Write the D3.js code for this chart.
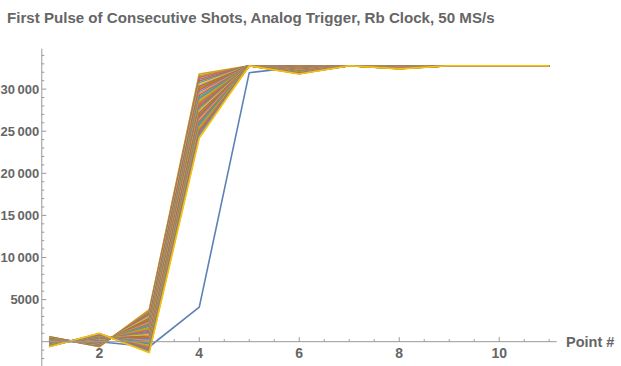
<!DOCTYPE html>
<html>
<head>
<meta charset="utf-8">
<script src="https://cdn.jsdelivr.net/npm/d3@7"></script>
<style>
  html, body { margin: 0; padding: 0; background: #fff; }
  svg { display: block; }
  text { font-family: "Liberation Sans", Arial, Helvetica, sans-serif; }
</style>
</head>
<body>
<svg id="chart" width="621" height="366"></svg>
<script>
// ---------------- data ----------------
const title = "First Pulse of Consecutive Shots, Analog Trigger, Rb Clock, 50 MS/s";
const xLabel = "Point #";
const pointNumbers = [1, 2, 3, 4, 5, 6, 7, 8, 9, 10, 11];
const xTickValues = [2, 4, 6, 8, 10];
const yTickValues = [5000, 10000, 15000, 20000, 25000, 30000];
const yTickLabels = ["5000", "10\u2009000", "15\u2009000", "20\u2009000", "25\u2009000", "30\u2009000"];
const FULL_SCALE = 32767; // saturated ADC value (points 5, 7, 9, 10, 11)

// first shot (outlier)
const firstShot = [0, 0, -600, 4100, 31950, 32620, 32767, 32767, 32767, 32767, 32767];

// later shots, value at each varying point (shot order)
const point1 = [600, 570, 540, 500, 470, 440, 400, 370, 340, 300, 270, 240, 200, 170, 130, 100, 70, 30, 0,
  -30, -70, -100, -130, -170, -200, -230, -270, -300, -330, -370, -400, -430, -470, -500, -530, -570, -600];
const point2 = [-600, -560, -510, -470, -420, -380, -330, -290, -240, -200, -160, -110, -70, -20, 20, 70, 110, 160, 200,
  240, 290, 330, 380, 420, 470, 510, 560, 600, 640, 690, 730, 780, 820, 870, 910, 960, 1000];
const point3 = [3800, 3650, 3520, 3370, 3230, 3090, 2950, 2800, 2660, 2520, 2380, 2240, 2100, 1950, 1810, 1670, 1530, 1390, 1250,
  1100, 960, 820, 680, 540, 400, 260, 120, -30, -170, -310, -450, -590, -730, -870, -1010, -1150, -1300];
const point4 = [31800, 31590, 31390, 31170, 30960, 30760, 30540, 30330, 30120, 29920, 29700, 29490, 29290, 29070, 28860, 28660, 28440, 28230, 28020,
  27820, 27600, 27390, 27190, 26970, 26760, 26560, 26340, 26130, 25920, 25720, 25500, 25290, 25080, 24880, 24660, 24450, 24200];
const point6 = [32767, 32740, 32710, 32690, 32660, 32630, 32600, 32580, 32550, 32520, 32500, 32470, 32440, 32410, 32390, 32360, 32330, 32310, 32280,
  32250, 32230, 32200, 32170, 32150, 32120, 32090, 32060, 32040, 32010, 31980, 31960, 31930, 31900, 31880, 31850, 31820, 31800];
const point8 = [32767, 32757, 32747, 32736, 32726, 32716, 32706, 32696, 32685, 32675, 32665, 32655, 32645, 32634, 32624, 32614, 32604, 32594, 32583,
  32573, 32563, 32553, 32543, 32532, 32522, 32512, 32502, 32492, 32481, 32471, 32461, 32451, 32441, 32430, 32420, 32410, 32400];

const palette = ["#5E81B5", "#E19C24", "#8FB032", "#EB6235", "#8778B3", "#C56E1A", "#5D9EC7", "#FFBF00",
  "#A5609D", "#929600", "#E95536", "#6685D9", "#F89F13", "#BC5B80", "#47B66D"];

// ---------------- build series ----------------
const series = [firstShot];
for (let i = 0; i < point1.length; i++) {
  series.push([point1[i], point2[i], point3[i], point4[i], FULL_SCALE, point6[i], FULL_SCALE, point8[i], FULL_SCALE, FULL_SCALE, FULL_SCALE]);
}

// ---------------- layout ----------------
const svg = d3.select("#chart");
const x = d3.scaleLinear().domain([0.85, 11.15]).range([41.8, 556.7]);
const y = d3.scaleLinear().domain([0, 30000]).range([341.7, 89.1]);
const yMin = -2950, yMax = 34800;
const axisColor = "#999";
const textColor = "#666";

// title
svg.append("text")
  .attr("x", 7).attr("y", 23)
  .attr("font-size", 15.1).attr("font-weight", "bold")
  .attr("fill", textColor)
  .text(title);

// lines
const line = d3.line()
  .x((d, i) => x(pointNumbers[i]))
  .y(d => y(d));

svg.append("g")
  .selectAll("path")
  .data(series)
  .join("path")
  .attr("d", line)
  .attr("fill", "none")
  .attr("stroke", (d, i) => palette[i % palette.length])
  .attr("stroke-width", 1.6)
  .attr("stroke-linejoin", "round");

// x axis
const gx = svg.append("g").attr("stroke", axisColor).attr("stroke-width", 1);
gx.append("line")
  .attr("x1", x(0.85)).attr("x2", x(11.15))
  .attr("y1", y(0)).attr("y2", y(0));
const xMinor = d3.range(1, 11.01, 0.5).filter(v => !xTickValues.includes(v));
gx.selectAll("line.minor").data(xMinor).join("line").attr("class", "minor")
  .attr("x1", d => x(d)).attr("x2", d => x(d))
  .attr("y1", y(0)).attr("y2", y(0) - 2.5);
gx.selectAll("line.major").data(xTickValues).join("line").attr("class", "major")
  .attr("x1", d => x(d)).attr("x2", d => x(d))
  .attr("y1", y(0)).attr("y2", y(0) - 4.5);

svg.append("g").selectAll("text").data(xTickValues).join("text")
  .attr("x", d => x(d)).attr("y", 358)
  .attr("text-anchor", "middle")
  .attr("font-size", 14).attr("font-weight", "bold")
  .attr("fill", textColor)
  .text(d => d);

svg.append("text")
  .attr("x", 566).attr("y", 347)
  .attr("font-size", 14.5).attr("font-weight", "bold")
  .attr("fill", textColor)
  .text(xLabel);

// y axis
const gy = svg.append("g").attr("stroke", axisColor).attr("stroke-width", 1);
gy.append("line")
  .attr("x1", x(0.85)).attr("x2", x(0.85))
  .attr("y1", y(yMin)).attr("y2", y(yMax));
const yMinor = d3.range(-2000, 34001, 1000).filter(v => v % 5000 !== 0);
gy.selectAll("line.minor").data(yMinor).join("line").attr("class", "minor")
  .attr("x1", x(0.85)).attr("x2", x(0.85) + 2.5)
  .attr("y1", d => y(d)).attr("y2", d => y(d));
gy.selectAll("line.major").data(yTickValues).join("line").attr("class", "major")
  .attr("x1", x(0.85)).attr("x2", x(0.85) + 4.5)
  .attr("y1", d => y(d)).attr("y2", d => y(d));

svg.append("g").selectAll("text").data(yTickValues).join("text")
  .attr("x", 39.3).attr("y", d => y(d))
  .attr("dy", "0.35em")
  .attr("text-anchor", "end")
  .attr("font-size", 13).attr("font-weight", "bold")
  .attr("fill", textColor)
  .text((d, i) => yTickLabels[i]);
</script>
</body>
</html>
